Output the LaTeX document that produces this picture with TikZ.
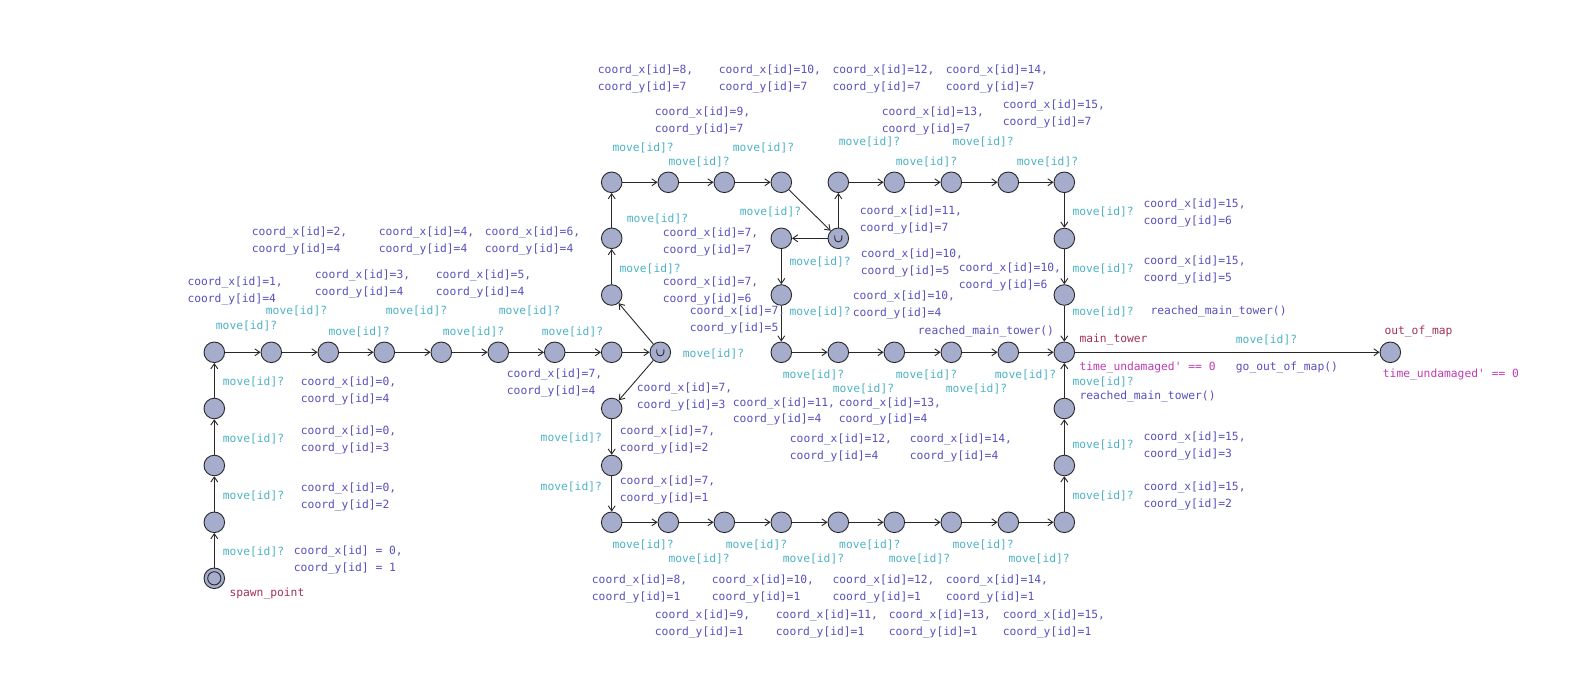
\documentclass[tikz,border=0pt]{standalone}
\usepackage{fontspec}
\newfontfamily\monof{DejaVu Sans Mono}
\usetikzlibrary{arrows.meta}
\definecolor{movec}{RGB}{77,178,197}
\definecolor{asgc}{RGB}{88,80,188}
\definecolor{namec}{RGB}{160,50,90}
\definecolor{invc}{RGB}{190,60,180}
\definecolor{locfill}{RGB}{165,172,204}
\definecolor{edgec}{RGB}{40,40,40}
\begin{document}
\begin{tikzpicture}[x=1pt,y=-1pt,
  loc/.style={circle,draw=edgec,fill=locfill,line width=0.9pt,minimum size=20.6pt,inner sep=0pt},
  initloc/.style={loc,path picture={\draw[edgec,line width=0.9pt]
      (path picture bounding box.center) circle[radius=6.6pt];}},
  comloc/.style={loc,path picture={\draw[edgec,line width=0.9pt]
      ([xshift=-3.6pt,yshift=3pt]path picture bounding box.center) -- ++(0pt,-3pt)
      arc[start angle=180,end angle=360,radius=3.6pt] -- ++(0pt,3pt);}},
  edge/.style={draw=edgec,line width=0.9pt,-{Straight Barb[length=5pt,width=7pt]}},
  txt/.style={anchor=west,inner sep=0pt,align=left,font=\monof\fontsize{11.3}{16.7}\selectfont},
  mv/.style={txt,text=movec},
  asg/.style={txt,text=asgc},
  nm/.style={txt,text=namec},
  inv/.style={txt,text=invc}]
\useasboundingbox (0,0) rectangle (1590,700);
% locations
\node[initloc] (s) at (214.3,578.3) {};
\node[loc] (l1) at (214.3,522.3) {};
\node[loc] (l2) at (214.3,465.5) {};
\node[loc] (l3) at (214.3,408.5) {};
\foreach \n/\x in {r0/214.3,r1/271.3,r2/328.3,r3/384.3,r4/441.3,r5/498.3,r6/554.7,r7/611.7,
  n0/781.3,n1/838.3,n2/894.3,n3/951.3,n4/1008.3}
  \node[loc] (\n) at (\x,352.3) {};
\node[loc] (mt) at (1064.3,352.3) {};
\node[loc] (oom) at (1390.3,352.3) {};
\node[comloc] (c1) at (660.3,352.3) {};
\node[loc] (u1) at (611.7,295) {};
\node[loc] (u2) at (611.7,238.3) {};
\foreach \n/\x in {t0/611.7,t1/668.3,t2/724.3,t3/781.3,t4/838.3,t5/894.3,t6/951.3,t7/1008.3,t8/1064.3}
  \node[loc] (\n) at (\x,182.3) {};
\node[comloc] (c2) at (838.3,238.3) {};
\node[loc] (m0) at (781.3,238.3) {};
\node[loc] (m1) at (781.3,295) {};
\node[loc] (v1) at (1064.3,238.5) {};
\node[loc] (v2) at (1064.3,295) {};
\node[loc] (d1) at (611.7,408.5) {};
\node[loc] (d2) at (611.7,465.5) {};
\foreach \n/\x in {b0/611.7,b1/668.3,b2/724.3,b3/781.3,b4/838.3,b5/894.3,b6/951.3,b7/1008.3,b8/1064.3}
  \node[loc] (\n) at (\x,522.3) {};
\node[loc] (w1) at (1064.3,465.5) {};
\node[loc] (w2) at (1064.3,408.5) {};
% edges
\foreach \a/\b in {s/l1,l1/l2,l2/l3,l3/r0,r0/r1,r1/r2,r2/r3,r3/r4,r4/r5,r5/r6,r6/r7,r7/c1,
  c1/u1,u1/u2,u2/t0,t0/t1,t1/t2,t2/t3,t3/c2,c2/m0,c2/t4,t4/t5,t5/t6,t6/t7,t7/t8,t8/v1,v1/v2,v2/mt,
  m0/m1,m1/n0,n0/n1,n1/n2,n2/n3,n3/n4,n4/mt,
  c1/d1,d1/d2,d2/b0,b0/b1,b1/b2,b2/b3,b3/b4,b4/b5,b5/b6,b6/b7,b7/b8,b8/w1,w1/w2,w2/mt,mt/oom}
  \draw[edge] (\a) -- (\b);
% names and invariants
\node[nm] (nsp) at (229.3,594) {spawn\_point};
\node[nm] (nmt) at (1079.3,340) {main\_tower};
\node[nm] (nom) at (1384.3,332) {out\_of\_map};
\node[inv] (imt) at (1079.3,367.7) {time\_undamaged{\char"0027} == 0};
\node[inv] (iom) at (1382.7,374.3) {time\_undamaged{\char"0027} == 0};
% sync labels
\foreach \x/\y [count=\i] in {265.7/311,215.7/326,328.3/332,385.7/311,442.7/332,498.7/311,541.7/332,
  222.7/382,222.7/439,222.7/495.7,222.7/551.7,
  612.3/148,668.3/161.7,732.7/148,838.7/141.7,895.7/161.7,952.3/141.7,1016.7/161.7,626.7/219,739.7/212,
  619.3/268.7,789.3/262.3,789.3/311.7,682.7/354,782.7/375,832.7/388.7,895.7/375,945.7/388.7,994.7/375,
  540.5/438,540.5/486.7,
  612.3/545,668.3/559,725.7/545,782.7/559,839/545,888.7/559,952.3/545,1008.3/559,
  1072.3/212.3,1072.3/269,1072.3/311.7,1235.7/340,1072.3/381.7,1072.3/445,1072.3/496}
  \node[mv] (mv\i) at (\x,\y) {move[id]?};
% assignment labels
\foreach \x/\y/\cx/\cy [count=\i] in {251.7/241.3/2/4,378.7/241.3/4/4,484.7/241.3/6/4,187.3/291/1/4,
  314.7/283.7/3/4,435.7/283.7/5/4,300.7/390.7/0/4,506.7/383.3/7/4,300.7/440.2/0/3,300.7/496.7/0/2,
  597.7/78.8/8/7,718.7/78.8/10/7,832.3/78.8/12/7,945.7/78.8/14/7,654.7/121/9/7,881.7/121/13/7,
  1002.7/113.8/15/7,662.7/241.7/7/7,859.7/220.3/11/7,662.7/291/7/6,689.7/319.7/7/5,860.7/263.3/10/5,
  852.7/305/10/4,958.7/277.3/10/6,1143.3/213.3/15/6,1143.3/269.7/15/5,636.7/397.3/7/3,732.7/411.5/11/4,
  838.7/411.5/13/4,619.7/440.2/7/2,619.7/489.7/7/1,789.7/447.7/12/4,909.7/447.7/14/4,1143.3/446/15/3,
  1143.3/496/15/2,591.7/588.8/8/1,711.7/588.8/10/1,832.3/588.8/12/1,945.7/588.8/14/1,654.7/623.7/9/1,
  775.7/623.7/11/1,888.7/623.7/13/1,1002.7/623.7/15/1}
  \node[asg] (as\i) at (\x,\y) {coord\_x[id]=\cx,\\coord\_y[id]=\cy};
\node[asg] (as0) at (293.7,560.3) {coord\_x[id] = 0,\\coord\_y[id] = 1};
\node[asg] (rm1) at (917.7,331.7) {reached\_main\_tower()};
\node[asg] (rm2) at (1150.3,311.7) {reached\_main\_tower()};
\node[asg] (rm3) at (1079.3,397) {reached\_main\_tower()};
\node[asg] (goo) at (1235.7,367.7) {go\_out\_of\_map()};
\end{tikzpicture}
\end{document}
